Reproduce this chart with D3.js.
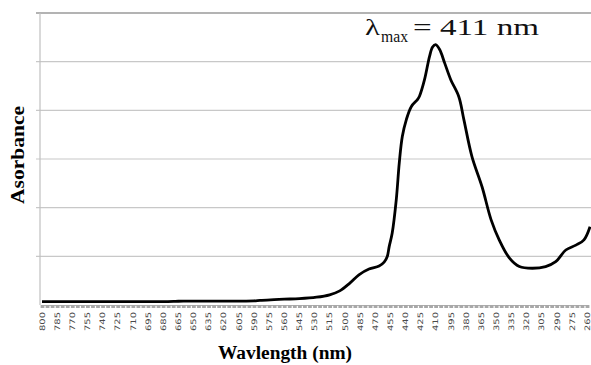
<!DOCTYPE html>
<html>
<head>
<meta charset="utf-8">
<script src="https://cdn.jsdelivr.net/npm/d3@7/dist/d3.min.js"></script>
<style>
  html, body { margin: 0; padding: 0; background: #fff; }
  svg { display: block; }
</style>
</head>
<body>
<svg id="chart" width="591" height="365"></svg>
<script>
// UV-Vis absorption spectrum (wavelength in nm, absorbance in arbitrary units)
const wavelength = [800, 760, 720, 680, 668, 660, 620, 590, 584, 570, 560, 545, 528, 515, 505, 495, 486, 476, 466, 461, 458, 456, 453, 449, 446, 443, 439, 434, 428, 426, 421, 416, 413, 410, 406, 401, 395, 387, 382, 374, 364, 355, 347, 337, 327, 314, 301, 291, 281, 271, 263, 257];
const absorbance = [0.07, 0.07, 0.07, 0.07, 0.075, 0.08, 0.08, 0.085, 0.095, 0.11, 0.12, 0.13, 0.16, 0.21, 0.29, 0.45, 0.62, 0.74, 0.80, 0.88, 0.99, 1.20, 1.48, 2.16, 2.92, 3.46, 3.81, 4.08, 4.22, 4.29, 4.63, 5.11, 5.30, 5.35, 5.25, 4.97, 4.63, 4.28, 3.81, 3.05, 2.43, 1.75, 1.34, 0.97, 0.79, 0.755, 0.79, 0.89, 1.13, 1.23, 1.34, 1.61];

// Category labels along the wavelength axis (every 15 nm) and minor tick marks (every 5 nm)
const tickLabels = d3.range(800, 259, -15);
const minorTicks = d3.range(800, 255, -5);
const gridValues = [1, 2, 3, 4, 5, 6];

const svg = d3.select("#chart");
const plot = { left: 40, top: 13, right: 600, bottom: 305 };

const x = d3.scaleLinear().domain([800, 260]).range([42, 587]);
const y = d3.scaleLinear().domain([0, 6]).range([plot.bottom, plot.top]);

// Horizontal gridlines
svg.append("g")
  .selectAll("line")
  .data(gridValues)
  .join("line")
  .attr("x1", plot.left - 4)
  .attr("x2", plot.right)
  .attr("y1", d => y(d))
  .attr("y2", d => y(d))
  .attr("stroke", d => d === 6 ? "#9a9a9a" : "#c8c8c8")
  .attr("stroke-width", d => d === 6 ? 1.6 : 1.2);

// Vertical value axis line
svg.append("line")
  .attr("x1", plot.left).attr("x2", plot.left)
  .attr("y1", plot.top).attr("y2", plot.bottom)
  .attr("stroke", "#c0c0c0").attr("stroke-width", 1.2);

// Category axis: dense gray tick marks
const xAxis = svg.append("g").attr("transform", `translate(0,${plot.bottom})`);
xAxis.call(d3.axisBottom(x).tickValues(minorTicks).tickSize(3).tickFormat(""));
xAxis.select(".domain").attr("stroke", "#b0b0b0").attr("stroke-width", 1);
xAxis.selectAll(".tick line").attr("stroke", "#a8a8a8").attr("stroke-width", 3.8);

// Rotated tick labels
svg.append("g")
  .selectAll("text")
  .data(tickLabels)
  .join("text")
  .attr("transform", d => `translate(${x(d) + 2.8},331) rotate(-90)`)
  .attr("font-family", "DejaVu Sans, sans-serif")
  .attr("font-size", 7.5)
  .attr("fill", "#4a4a4a")
  .attr("textLength", 19)
  .attr("lengthAdjust", "spacingAndGlyphs")
  .text(d => d);

// Spectrum line
const pts = wavelength.map((w, i) => [w, absorbance[i]]);
svg.append("path")
  .datum(pts)
  .attr("fill", "none")
  .attr("stroke", "#000")
  .attr("stroke-width", 2.8)
  .attr("stroke-linejoin", "round")
  .attr("d", d3.line().x(d => x(d[0])).y(d => y(d[1])).curve(d3.curveCatmullRom.alpha(0.5)));

// Axis titles
svg.append("text")
  .attr("x", 285).attr("y", 359)
  .attr("text-anchor", "middle")
  .attr("font-family", "Liberation Serif, Times New Roman, serif")
  .attr("font-weight", "bold")
  .attr("font-size", 18.5)
  .attr("textLength", 134)
  .attr("lengthAdjust", "spacingAndGlyphs")
  .text("Wavlength (nm)");

svg.append("text")
  .attr("transform", "translate(24,155) rotate(-90)")
  .attr("text-anchor", "middle")
  .attr("font-family", "Liberation Serif, Times New Roman, serif")
  .attr("font-weight", "bold")
  .attr("font-size", 18.5)
  .attr("textLength", 98)
  .attr("lengthAdjust", "spacingAndGlyphs")
  .text("Asorbance");

// Peak annotation
const ann = svg.append("g")
  .attr("font-family", "Liberation Serif, Times New Roman, serif")
  .attr("fill", "#111");
ann.append("text")
  .attr("x", 365).attr("y", 35)
  .attr("font-size", 23)
  .attr("textLength", 15)
  .attr("lengthAdjust", "spacingAndGlyphs")
  .text("λ");
ann.append("text")
  .attr("x", 381).attr("y", 42)
  .attr("font-size", 16)
  .attr("textLength", 27)
  .attr("lengthAdjust", "spacingAndGlyphs")
  .text("max");
ann.append("text")
  .attr("x", 413).attr("y", 35)
  .attr("font-size", 23)
  .attr("textLength", 126)
  .attr("lengthAdjust", "spacingAndGlyphs")
  .text("= 411 nm");
</script>
</body>
</html>
